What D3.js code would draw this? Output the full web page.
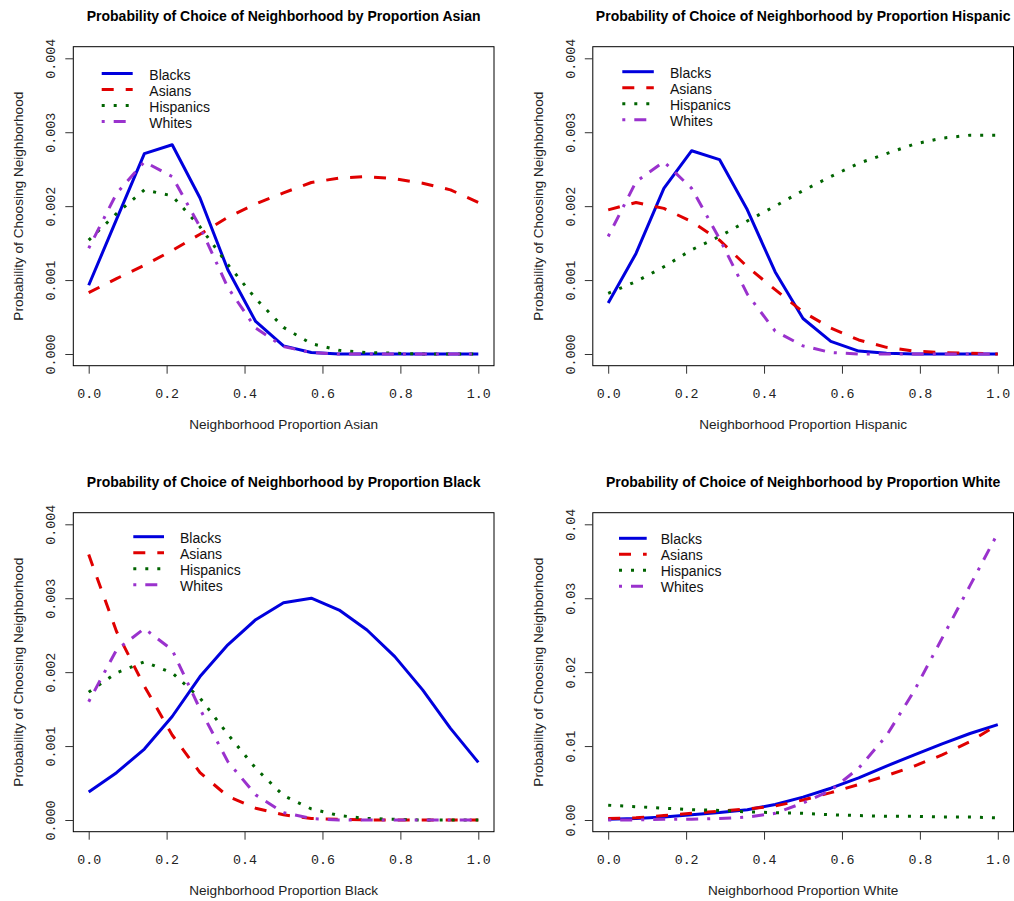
<!DOCTYPE html>
<html><head><meta charset="utf-8">
<script src="https://cdn.jsdelivr.net/npm/d3@7"></script>
<style>body{margin:0;background:#fff}svg{display:block}</style>
</head><body>
<script>
// ---------- data ----------
const xValues = [0, 0.0714, 0.1429, 0.2143, 0.2857, 0.3571, 0.4286, 0.5, 0.5714, 0.6429, 0.7143, 0.7857, 0.8571, 0.9286, 1];
const seriesNames = ["Blacks", "Asians", "Hispanics", "Whites"];

const asianBlacks    = [0.00093, 0.00182, 0.00271, 0.00283, 0.00211, 0.00114, 0.00044, 0.00011, 0.00002, 0, 0, 0, 0, 0, 0];
const asianAsians    = [0.00083, 0.00102, 0.0012, 0.0014, 0.00162, 0.00185, 0.00203, 0.00218, 0.00232, 0.00238, 0.0024, 0.00237, 0.00231, 0.00222, 0.00205];
const asianHispanics = [0.00154, 0.0019, 0.00222, 0.00214, 0.00172, 0.00121, 0.00075, 0.00036, 0.00014, 0.00005, 0.00002, 0.00001, 0, 0, 0];
const asianWhites    = [0.00143, 0.00217, 0.0026, 0.0024, 0.00172, 0.0009, 0.00035, 0.0001, 0.00002, 0, 0, 0, 0, 0, 0];

const hispBlacks     = [0.00069, 0.00136, 0.00224, 0.00275, 0.00263, 0.00195, 0.00111, 0.00048, 0.00017, 0.00004, 0.00001, 0, 0, 0, 0];
const hispAsians     = [0.00195, 0.00205, 0.00197, 0.00179, 0.00154, 0.00118, 0.00087, 0.00057, 0.00035, 0.00019, 0.00009, 0.00004, 0.00002, 0.00001, 0];
const hispHispanics  = [0.00082, 0.00098, 0.00118, 0.00141, 0.00159, 0.0018, 0.002, 0.00221, 0.0024, 0.00258, 0.00271, 0.00284, 0.00292, 0.00296, 0.00296];
const hispWhites     = [0.00159, 0.00233, 0.0026, 0.00224, 0.00156, 0.00081, 0.00031, 0.00011, 0.00002, 0, 0, 0, 0, 0, 0];

const blackBlacks    = [0.00038, 0.00064, 0.00096, 0.0014, 0.00194, 0.00237, 0.00271, 0.00294, 0.003, 0.00284, 0.00257, 0.00221, 0.00176, 0.00124, 0.00078];
const blackAsians    = [0.00359, 0.00255, 0.00181, 0.00115, 0.00064, 0.00032, 0.00016, 0.00007, 0.00002, 0.00001, 0, 0, 0, 0, 0];
const blackHispanics = [0.00173, 0.00199, 0.00214, 0.00199, 0.00165, 0.00116, 0.0007, 0.00033, 0.00015, 0.00006, 0.00002, 0.00001, 0, 0, 0];
const blackWhites    = [0.0016, 0.0023, 0.00259, 0.0023, 0.0015, 0.00079, 0.00034, 0.0001, 0.00002, 0, 0, 0, 0, 0, 0];

const whiteBlacks    = [0.0001, 0.0002, 0.0004, 0.0007, 0.001, 0.0014, 0.0021, 0.0031, 0.0043, 0.0057, 0.0073, 0.0088, 0.0103, 0.0117, 0.0129];
const whiteAsians    = [0.0002, 0.0003, 0.0006, 0.0009, 0.0012, 0.0015, 0.0019, 0.0027, 0.0037, 0.0048, 0.006, 0.0073, 0.0088, 0.0106, 0.0129];
const whiteHispanics = [0.002, 0.0018, 0.0016, 0.0014, 0.0013, 0.0011, 0.001, 0.0009, 0.0007, 0.0006, 0.0005, 0.0005, 0.0004, 0.0004, 0.0003];
const whiteWhites    = [0, 0, 0.0001, 0.0001, 0.0002, 0.0004, 0.0009, 0.0023, 0.004, 0.007, 0.0114, 0.0175, 0.0246, 0.0317, 0.0388];

const panelTitles = [
  "Probability of Choice of Neighborhood by Proportion Asian",
  "Probability of Choice of Neighborhood by Proportion Hispanic",
  "Probability of Choice of Neighborhood by Proportion Black",
  "Probability of Choice of Neighborhood by Proportion White"
];
const xAxisLabels = [
  "Neighborhood Proportion Asian",
  "Neighborhood Proportion Hispanic",
  "Neighborhood Proportion Black",
  "Neighborhood Proportion White"
];
const yAxisLabel = "Probability of Choosing Neighborhood";
const xTickValues = [0, 0.2, 0.4, 0.6, 0.8, 1.0];
const yTicksSmall = [0, 0.001, 0.002, 0.003, 0.004];
const yTicksLarge = [0, 0.01, 0.02, 0.03, 0.04];

const panelSeries = [
  [asianBlacks, asianAsians, asianHispanics, asianWhites],
  [hispBlacks, hispAsians, hispHispanics, hispWhites],
  [blackBlacks, blackAsians, blackHispanics, blackWhites],
  [whiteBlacks, whiteAsians, whiteHispanics, whiteWhites]
];
const panelYTicks = [yTicksSmall, yTicksSmall, yTicksSmall, yTicksLarge];

// ---------- layout / style ----------
const W = 1014, H = 901;
const offsets = [[0, 0], [519.5, 0], [0, 466], [519.5, 466]];
const box = {x: 73.3, y: 46.7, w: 420.7, h: 319};
const xRange = [88.7, 478.3];
const yRange = [354, 58.3];
const legendPos = [
  {x: 101.7, y: 73.5, len: 31, tx: 47.6},
  {x: 102.8, y: 71.7, len: 31.5, tx: 47.7},
  {x: 133.3, y: 70.7, len: 30.7, tx: 46.7},
  {x: 99.5, y: 72.3, len: 27.7, tx: 41.7}
];
const colors = ["#0000dd", "#e00000", "#006400", "#9a32cd"];
const dashes = [null, "12,12", "3,9", "3,9,12,9"];
const monoFont = "'Liberation Mono','DejaVu Sans Mono',monospace";
const sansFont = "'Liberation Sans',Arial,sans-serif";

const svg = d3.select("body").append("svg").attr("width", W).attr("height", H);
svg.append("rect").attr("width", W).attr("height", H).attr("fill", "#fff");

panelSeries.forEach((series, p) => {
  const [ox, oy] = offsets[p];
  const g = svg.append("g").attr("transform", `translate(${ox},${oy})`);
  const yT = panelYTicks[p];
  const x = d3.scaleLinear().domain([0, 1]).range(xRange);
  const y = d3.scaleLinear().domain([yT[0], yT[yT.length - 1]]).range(yRange);
  const yFmt = p === 3 ? d3.format(".2f") : d3.format(".3f");

  // lines
  const line = d3.line().x((d, i) => x(xValues[i])).y(d => y(d));
  series.forEach((vals, s) => {
    g.append("path").datum(vals)
      .attr("d", line)
      .attr("fill", "none")
      .attr("stroke", colors[s])
      .attr("stroke-width", 3)
      .attr("stroke-linejoin", "round")
      .attr("stroke-linecap", "butt")
      .attr("stroke-dasharray", dashes[s]);
  });

  // box
  g.append("rect").attr("x", box.x).attr("y", box.y).attr("width", box.w).attr("height", box.h)
    .attr("fill", "none").attr("stroke", "#000").attr("stroke-width", 1);

  // x axis
  const xa = g.append("g").attr("transform", `translate(0,${box.y + box.h})`)
    .call(d3.axisBottom(x).tickValues(xTickValues).tickSize(8).tickPadding(0).tickFormat(d3.format(".1f")));
  xa.select(".domain").remove();
  xa.selectAll("line").attr("stroke", "#333");
  xa.selectAll("text").attr("y", 393.3 - (box.y + box.h)).attr("dy", "0.35em")
    .attr("font-family", monoFont).attr("font-size", "13.3px").attr("fill", "#222");

  // y axis
  const ya = g.append("g").attr("transform", `translate(${box.x},0)`)
    .call(d3.axisLeft(y).tickValues(yT).tickSize(8).tickFormat(yFmt));
  ya.select(".domain").remove();
  ya.selectAll("line").attr("stroke", "#333");
  ya.selectAll("text")
    .attr("x", null).attr("dy", null)
    .attr("text-anchor", "middle")
    .attr("dominant-baseline", "central")
    .attr("transform", `translate(${51.7 - box.x},0) rotate(-90)`)
    .attr("font-family", monoFont).attr("font-size", "13.3px").attr("fill", "#222");

  // titles
  g.append("text").attr("x", box.x + box.w / 2).attr("y", 20.7)
    .attr("text-anchor", "middle").attr("font-family", sansFont)
    .attr("font-weight", "bold").attr("font-size", "14px").attr("fill", "#000")
    .text(panelTitles[p]);
  g.append("text").attr("x", box.x + box.w / 2).attr("y", 429)
    .attr("text-anchor", "middle").attr("font-family", sansFont)
    .attr("font-size", "13.6px").attr("fill", "#222")
    .text(xAxisLabels[p]);
  g.append("text").attr("transform", `translate(18.5,${box.y + box.h / 2}) rotate(-90)`)
    .attr("text-anchor", "middle").attr("dominant-baseline", "central")
    .attr("font-family", sansFont).attr("font-size", "13.6px").attr("fill", "#222")
    .text(yAxisLabel);

  // legend
  const lp = legendPos[p];
  seriesNames.forEach((name, s) => {
    const ly = lp.y + s * 16;
    g.append("line").attr("x1", lp.x).attr("x2", lp.x + lp.len).attr("y1", ly).attr("y2", ly)
      .attr("stroke", colors[s]).attr("stroke-width", 3).attr("stroke-dasharray", dashes[s]);
    g.append("text").attr("x", lp.x + lp.tx).attr("y", ly + 1)
      .attr("dominant-baseline", "central")
      .attr("font-family", sansFont).attr("font-size", "14px").attr("fill", "#111")
      .text(name);
  });
});
</script>
</body></html>
